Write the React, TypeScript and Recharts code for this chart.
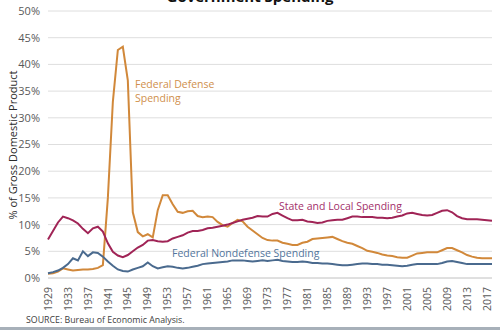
import { LineChart, Line, XAxis, YAxis, CartesianGrid } from 'recharts'

const years = [
  1929, 1930, 1931, 1932, 1933, 1934, 1935, 1936, 1937, 1938,
  1939, 1940, 1941, 1942, 1943, 1944, 1945, 1946, 1947, 1948,
  1949, 1950, 1951, 1952, 1953, 1954, 1955, 1956, 1957, 1958,
  1959, 1960, 1961, 1962, 1963, 1964, 1965, 1966, 1967, 1968,
  1969, 1970, 1971, 1972, 1973, 1974, 1975, 1976, 1977, 1978,
  1979, 1980, 1981, 1982, 1983, 1984, 1985, 1986, 1987, 1988,
  1989, 1990, 1991, 1992, 1993, 1994, 1995, 1996, 1997, 1998,
  1999, 2000, 2001, 2002, 2003, 2004, 2005, 2006, 2007, 2008,
  2009, 2010, 2011, 2012, 2013, 2014, 2015, 2016, 2017, 2018,
]

// % of GDP
const defense = [
  0.8, 0.9, 1.2, 1.8, 1.6, 1.4, 1.5, 1.6, 1.6, 1.7,
  1.9, 2.4, 15.0, 33.0, 42.7, 43.3, 37.0, 12.3, 8.6, 7.8,
  8.2, 7.6, 12.7, 15.5, 15.5, 13.8, 12.4, 12.2, 12.5, 12.6,
  11.6, 11.4, 11.5, 11.4, 10.5, 9.9, 9.6, 10.3, 10.9, 10.6,
  9.6, 8.9, 8.2, 7.5, 7.1, 7.0, 7.0, 6.6, 6.4, 6.2,
  6.2, 6.6, 6.8, 7.3, 7.4, 7.5, 7.6, 7.7, 7.3, 6.9,
  6.6, 6.4, 6.0, 5.6, 5.1, 4.9, 4.7, 4.4, 4.2, 4.1,
  3.9, 3.8, 3.8, 4.2, 4.6, 4.7, 4.8, 4.8, 4.8, 5.2,
  5.6, 5.6, 5.2, 4.8, 4.3, 4.0, 3.8, 3.7, 3.7, 3.7,
]

const stateLocal = [
  7.2, 8.8, 10.4, 11.5, 11.2, 10.8, 10.2, 9.2, 8.4, 9.3,
  9.6, 8.7, 6.5, 4.9, 4.2, 3.9, 4.3, 5.0, 5.7, 6.2,
  7.0, 7.1, 6.9, 6.8, 6.9, 7.4, 7.7, 8.0, 8.5, 8.8,
  8.8, 9.0, 9.3, 9.4, 9.6, 9.8, 10.0, 10.3, 10.6, 10.9,
  11.1, 11.3, 11.6, 11.5, 11.5, 12.0, 12.2, 11.7, 11.2, 10.8,
  10.8, 10.9, 10.6, 10.5, 10.3, 10.4, 10.7, 10.8, 10.9, 10.9,
  11.2, 11.5, 11.5, 11.4, 11.4, 11.4, 11.3, 11.3, 11.2, 11.3,
  11.5, 11.7, 12.1, 12.2, 12.0, 11.8, 11.7, 11.8, 12.2, 12.6,
  12.7, 12.3, 11.6, 11.2, 11.0, 11.0, 11.0, 10.9, 10.8, 10.7,
]

const nonDefense = [
  0.9, 1.1, 1.4, 1.9, 2.6, 3.7, 3.3, 5.0, 4.1, 4.8,
  4.7, 4.0, 3.1, 2.3, 1.6, 1.3, 1.2, 1.6, 1.9, 2.2,
  2.9, 2.2, 1.8, 2.0, 2.2, 2.1, 1.9, 1.8, 1.9, 2.1,
  2.3, 2.6, 2.7, 2.8, 2.9, 3.0, 3.1, 3.3, 3.3, 3.3,
  3.2, 3.1, 3.2, 3.3, 3.2, 3.3, 3.4, 3.2, 3.1, 3.0,
  3.0, 3.1, 3.0, 2.8, 2.8, 2.7, 2.7, 2.6, 2.5, 2.4,
  2.4, 2.5, 2.6, 2.7, 2.7, 2.6, 2.6, 2.5, 2.5, 2.4,
  2.3, 2.2, 2.3, 2.5, 2.6, 2.6, 2.6, 2.6, 2.6, 2.8,
  3.1, 3.2, 3.0, 2.8, 2.6, 2.6, 2.6, 2.6, 2.6, 2.6,
]

const yTicks = [0, 5, 10, 15, 20, 25, 30, 35, 40, 45, 50]

const data = years.map((year, i) => ({
  year,
  defense: defense[i],
  stateLocal: stateLocal[i],
  nonDefense: nonDefense[i],
}))

const FONT = '"Open Sans", sans-serif'
const ORANGE = '#d1883a'
const MAROON = '#a02456'
const BLUE = '#4a6a8e'

function YearTick({ x, y, payload }: any) {
  return (
    <text
      x={x}
      y={y}
      transform={`rotate(-90 ${x} ${y})`}
      textAnchor="end"
      dy="0.35em"
      fontSize={10.5}
      fontFamily={FONT}
      fill="#595959"
    >
      {payload.value}
    </text>
  )
}

export default function App() {
  return (
    <div style={{ position: 'absolute', left: 0, top: 0, width: 500, height: 330, background: '#fff', overflow: 'hidden' }}>
      <LineChart width={500} height={330} data={data} margin={{ top: 11, right: 8, left: 0, bottom: 0 }}>
        <CartesianGrid vertical={false} stroke="#dedede" />
        <XAxis
          dataKey="year"
          interval={3}
          height={52}
          tickLine={false}
          axisLine={{ stroke: '#d0d0d0' }}
          tickMargin={3}
          tick={<YearTick />}
        />
        <YAxis
          domain={[0, 50]}
          ticks={yTicks}
          width={48}
          axisLine={false}
          tickLine={false}
          tickFormatter={(v: number) => `${v}%`}
          tick={{ fontSize: 11, fontFamily: FONT, fill: '#595959' }}
        />
        <Line type="linear" dataKey="defense" stroke={ORANGE} strokeWidth={2} dot={false} isAnimationActive={false} />
        <Line type="linear" dataKey="stateLocal" stroke={MAROON} strokeWidth={2} dot={false} isAnimationActive={false} />
        <Line type="linear" dataKey="nonDefense" stroke={BLUE} strokeWidth={2} dot={false} isAnimationActive={false} />
      </LineChart>

      {/* titles and series labels */}
      <svg width={500} height={330} style={{ position: 'absolute', left: 0, top: 0, pointerEvents: 'none' }}>
        <text x={250} y={2} textAnchor="middle" fontSize={15} fontWeight="bold" fontFamily={FONT} fill="#111">
          Government Spending
        </text>
        <text
          x={13}
          y={145}
          transform="rotate(-90 13 145)"
          textAnchor="middle"
          dy="0.35em"
          fontSize={11}
          fontFamily={FONT}
          fill="#2a2a2a"
        >
          % of Gross Domestic Product
        </text>
        <text x={135} y={87.5} fontSize={10.5} fontFamily={FONT} fill="#d08f4c">Federal Defense</text>
        <text x={135} y={102} fontSize={10.5} fontFamily={FONT} fill="#d08f4c">Spending</text>
        <text x={279} y={209.5} fontSize={10.5} fontFamily={FONT} fill="#a3306a">State and Local Spending</text>
        <text x={172} y={257} fontSize={10.5} fontFamily={FONT} fill="#52759c">Federal Nondefense Spending</text>
        <text x={26} y={323} fontSize={8.8} fontFamily={FONT} fill="#404040">SOURCE: Bureau of Economic Analysis.</text>
      </svg>
      <div style={{ position: 'absolute', left: 0, bottom: 0, width: 500, height: 3, background: '#a7b0b9' }} />
    </div>
  )
}
